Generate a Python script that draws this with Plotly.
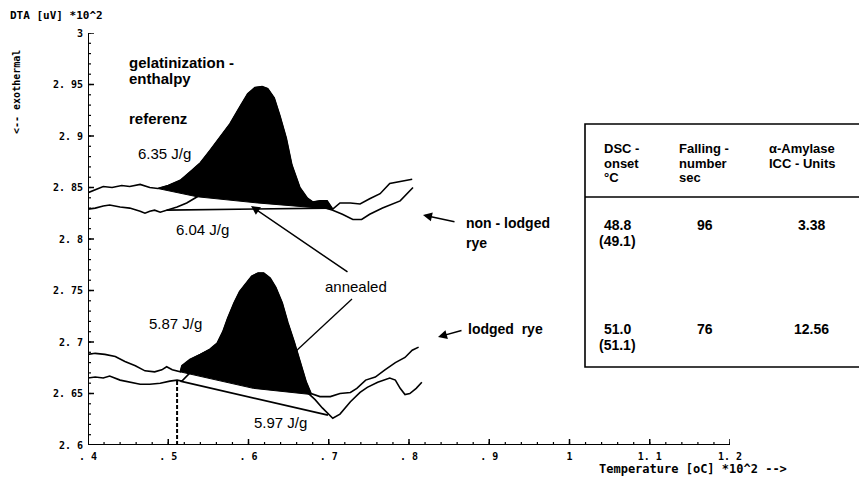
import numpy as np
import plotly.graph_objects as go

# ---------------- data (temperature *10^2 , DTA uV *10^2) ----------------
ref_non_T = [.400, .409, .419, .430, .442, .452, .465, .477, .487, .500, .515, .527, .540, .552, .564, .577, .589, .599, .608, .617,
             .624, .632, .639, .647, .654, .664, .673, .680, .689, .698, .705, .714, .727, .739, .751, .764, .776, .789, .804]
ref_non_V = [2.845, 2.848, 2.851, 2.850, 2.852, 2.851, 2.853, 2.850, 2.849, 2.852, 2.857, 2.865, 2.874, 2.886, 2.898, 2.912, 2.928, 2.941, 2.947, 2.948,
             2.946, 2.937, 2.920, 2.898, 2.872, 2.850, 2.840, 2.836, 2.837, 2.837, 2.829, 2.835, 2.835, 2.834, 2.839, 2.844, 2.854, 2.856, 2.858]
ref_non_peak = (.487, .705)
ref_non_base_T = [.705, .611, .536, .487]
ref_non_base_V = [2.829, 2.835, 2.841, 2.849]

ann_non_T = [.400, .409, .419, .427, .440, .452, .465, .471, .477, .483, .490, .498, .511, .523, .536, .552, .577, .602, .617, .632,
             .647, .664, .680, .692, .705, .717, .730, .741, .751, .767, .789, .805]
ann_non_V = [2.829, 2.830, 2.832, 2.833, 2.831, 2.830, 2.827, 2.825, 2.827, 2.828, 2.826, 2.828, 2.831, 2.835, 2.841, 2.857, 2.886, 2.917, 2.927, 2.917,
             2.875, 2.842, 2.831, 2.831, 2.828, 2.824, 2.819, 2.819, 2.824, 2.830, 2.837, 2.850]
ann_non_base_T = [.498, .700]
ann_non_base_V = [2.828, 2.830]

ref_lod_T = [.400, .409, .421, .434, .446, .459, .471, .483, .492, .498, .505, .515, .517, .527, .540, .552, .561, .568, .574, .582,
             .589, .597, .604, .612, .619, .627, .634, .642, .649, .657, .664, .672, .678, .689, .702, .714, .727, .735, .746, .758,
             .770, .783, .795, .804, .812]
ref_lod_V = [2.688, 2.689, 2.688, 2.686, 2.681, 2.677, 2.672, 2.671, 2.673, 2.676, 2.673, 2.671, 2.677, 2.683, 2.688, 2.693, 2.699, 2.710, 2.723, 2.738,
             2.749, 2.757, 2.764, 2.767, 2.767, 2.762, 2.753, 2.738, 2.719, 2.700, 2.681, 2.661, 2.650, 2.647, 2.647, 2.650, 2.651, 2.655, 2.663, 2.666,
             2.673, 2.680, 2.685, 2.692, 2.695]
ref_lod_peak = (.515, .678)
ref_lod_base_T = [.678, .606, .515]
ref_lod_base_V = [2.649, 2.655, 2.671]

ann_lod_T = [.400, .409, .419, .427, .440, .452, .465, .477, .490, .502, .511, .517, .527, .552, .589, .612, .633, .655, .672, .683,
             .692, .705, .714, .727, .739, .748, .761, .776, .783, .789, .795, .801, .809, .816]
ann_lod_V = [2.665, 2.666, 2.665, 2.667, 2.663, 2.661, 2.659, 2.659, 2.660, 2.662, 2.663, 2.662, 2.670, 2.687, 2.731, 2.750, 2.736, 2.690, 2.652, 2.644,
             2.636, 2.626, 2.630, 2.642, 2.651, 2.656, 2.661, 2.665, 2.663, 2.655, 2.649, 2.650, 2.655, 2.661]
ann_lod_base_T = [.515, .699]
ann_lod_base_V = [2.662, 2.629]

onset_T = .511
onset_V = 2.663

x_range = [.4, 1.2]
y_range = [2.6, 3.0]
x_ticks = [.4, .5, .6, .7, .8, .9, 1.0, 1.1, 1.2]
x_ticktext = [". 4", ". 5", ". 6", ". 7", ". 8", ". 9", "1", "1. 1", "1. 2"]
y_ticks = [2.6, 2.65, 2.7, 2.75, 2.8, 2.85, 2.9, 2.95, 3.0]
y_ticktext = ["2. 6", "2. 65", "2. 7", "2. 75", "2. 8", "2. 85", "2. 9", "2. 95", "3"]
x_minor_step = 0.02
y_minor_step = 0.01

table_header = [["DSC -", "onset", "°C"], ["Falling -", "number", "sec"], ["α-Amylase", "ICC - Units"]]
table_rows = [[["48.8", "(49.1)"], ["96"], ["3.38"]],
              [["51.0", "(51.1)"], ["76"], ["12.56"]]]

enthalpy_labels = ["6.35 J/g", "6.04 J/g", "5.87 J/g", "5.97 J/g"]

# ---------------- figure ----------------
OFF = 8                      # page body margin compensation
PW, PH = 867, 486            # page size
L, R, T, B = 88, 137, 33, 41 # plot area in page pixels
LINE = dict(color="black", width=1.6)
fig = go.Figure()


def seg(ts, vs, lo, hi):
    pts = [(t, v) for t, v in zip(ts, vs) if lo <= t <= hi]
    return [p[0] for p in pts], [p[1] for p in pts]


for ts, vs, pk, bt, bv in [(ref_non_T, ref_non_V, ref_non_peak, ref_non_base_T, ref_non_base_V),
                           (ref_lod_T, ref_lod_V, ref_lod_peak, ref_lod_base_T, ref_lod_base_V)]:
    st, sv = seg(ts, vs, *pk)
    fig.add_trace(go.Scatter(x=st + bt, y=sv + bv, mode="lines", fill="toself",
                             fillcolor="black", line=dict(color="black", width=1), hoverinfo="skip"))

for ts, vs in [(ann_non_T, ann_non_V), (ann_lod_T, ann_lod_V), (ref_non_T, ref_non_V), (ref_lod_T, ref_lod_V)]:
    fig.add_trace(go.Scatter(x=ts, y=vs, mode="lines", line=LINE, hoverinfo="skip"))

for bt, bv in [(ann_non_base_T, ann_non_base_V), (ann_lod_base_T, ann_lod_base_V)]:
    fig.add_trace(go.Scatter(x=bt, y=bv, mode="lines", line=LINE, hoverinfo="skip"))

fig.add_trace(go.Scatter(x=[onset_T, onset_T], y=[y_range[0], onset_V], mode="lines",
                         line=dict(color="black", width=2, dash="4px,2px"), hoverinfo="skip"))

PLOT_W = PW - L - R
PLOT_H = PH - T - B


def px2d(px, py):
    return (x_range[0] + (px - L) / PLOT_W * (x_range[1] - x_range[0]),
            y_range[0] + (PH - B - py) / PLOT_H * (y_range[1] - y_range[0]))


def px2p(px, py):
    return (px - L) / PLOT_W, (PH - B - py) / PLOT_H


TXT = "Liberation Sans"
ann = []


def label(text, px, py, size=14, bold=True, anchor="left"):
    x, y = px2d(px, py)
    ann.append(dict(x=x, y=y, xref="x", yref="y", text=("<b>%s</b>" % text) if bold else text,
                    showarrow=False, xanchor=anchor, yanchor="middle", align="left",
                    font=dict(family=TXT, size=size, color="black")))


label("gelatinization -", 127, 62, 15)
label("enthalpy", 127, 78, 15)
label("referenz", 127, 118, 15)
label(enthalpy_labels[0], 136, 153, 15, bold=False)
label(enthalpy_labels[1], 174, 229, 15, bold=False)
label(enthalpy_labels[2], 147, 323, 15, bold=False)
label(enthalpy_labels[3], 252, 422, 15, bold=False)
label("annealed", 323, 286, 15, bold=False)
label("non - lodged", 464, 223, 14)
label("rye", 464, 243, 14)
label("lodged  rye", 466, 329, 14)


def arrow(hx, hy, tx, ty, head=2):
    x, y = px2d(hx, hy)
    ax_, ay_ = px2d(tx, ty)
    ann.append(dict(x=x, y=y, ax=ax_, ay=ay_, xref="x", yref="y", axref="x", ayref="y",
                    text="", showarrow=True, arrowhead=head, arrowsize=1.2, arrowwidth=1.5,
                    arrowcolor="black"))


arrow(423, 215, 456, 222)
arrow(438, 337, 463, 330)
arrow(251, 206, 349, 273)

shapes = []
x0, y0 = px2d(352, 299)
x1, y1 = px2d(295, 352)
shapes.append(dict(type="line", xref="x", yref="y", x0=x0, y0=y0, x1=x1, y1=y1,
                   line=dict(color="black", width=1.3)))

# axis lines and tick marks (drawn as shapes in axis coordinates)
AX = dict(color="black", width=2)
shapes.append(dict(type="line", xref="x", yref="y", x0=x_range[0], y0=y_range[0], x1=x_range[1], y1=y_range[0], line=AX))
shapes.append(dict(type="line", xref="x", yref="y", x0=x_range[0], y0=y_range[0], x1=x_range[0], y1=y_range[1], line=AX))


def xtick(v, ln, w):
    shapes.append(dict(type="line", xref="x", yref="y", ysizemode="pixel", yanchor=y_range[0],
                       x0=v, x1=v, y0=0, y1=ln, line=dict(color="black", width=w)))


def ytick(v, ln, w):
    shapes.append(dict(type="line", xref="x", yref="y", xsizemode="pixel", xanchor=x_range[0],
                       x0=0, x1=ln, y0=v, y1=v, line=dict(color="black", width=w)))


for v in np.arange(x_range[0], x_range[1] + 1e-9, x_minor_step):
    xtick(float(v), 3, 1.2)
for v in np.arange(y_range[0], y_range[1] + 1e-9, y_minor_step):
    ytick(float(v), 3, 1.2)
for v in x_ticks:
    xtick(v, 6, 1.5)
for v in y_ticks:
    ytick(v, 6, 1.5)

# table
tl = px2p(585, 124)
br = px2p(880, 367)
sep = px2p(585, 197)
shapes.append(dict(type="rect", xref="paper", yref="paper", x0=tl[0], y0=br[1], x1=br[0], y1=tl[1],
                   line=dict(color="black", width=1.6)))
shapes.append(dict(type="line", xref="paper", yref="paper", x0=tl[0], y0=sep[1], x1=br[0], y1=sep[1],
                   line=dict(color="black", width=1.6)))


def ptext(text, px, py, size=13, anchor="left"):
    x, y = px2p(px, py)
    ann.append(dict(x=x, y=y, xref="paper", yref="paper", text="<b>%s</b>" % text, showarrow=False,
                    xanchor=anchor, yanchor="middle", font=dict(family=TXT, size=size, color="black")))


col_x = [602, 677, 767]
for c, lines in enumerate(table_header):
    for i, t in enumerate(lines):
        ptext(t, col_x[c], 148 + 15 * i)

row_y = [225, 329]
row_x = [(602, "left"), (705, "center"), (812, "center")]
for r, row in enumerate(table_rows):
    for c, lines in enumerate(row):
        for i, t in enumerate(lines):
            px = row_x[c][0] - (5 if (c == 0 and i == 1) else 0)
            ptext(t, px, row_y[r] + 16 * i, 14, row_x[c][1])

# axis titles
MONO = "DejaVu Sans Mono"
ann.append(dict(x=px2p(8, 15)[0], y=px2p(8, 15)[1], xref="paper", yref="paper", text="<b>DTA [uV] *10^2</b>",
                showarrow=False, xanchor="left", yanchor="middle", font=dict(family=MONO, size=11, color="black")))
ann.append(dict(x=px2p(16, 92)[0], y=px2p(16, 92)[1], xref="paper", yref="paper", text="<b><-- exothermal</b>",
                showarrow=False, textangle=-90, xanchor="center", yanchor="middle",
                font=dict(family=MONO, size=10, color="black")))
ann.append(dict(x=px2p(597, 469)[0], y=px2p(597, 469)[1], xref="paper", yref="paper",
                text="<b>Temperature [oC] *10^2 --></b>",
                showarrow=False, xanchor="left", yanchor="middle", font=dict(family=MONO, size=12, color="black")))

fig.update_layout(
    width=PW - OFF, height=PH - OFF,
    margin=dict(l=L - OFF, r=R, t=T - OFF, b=B, autoexpand=False),
    paper_bgcolor="white", plot_bgcolor="white", showlegend=False,
    annotations=ann, shapes=shapes,
)
for axis, rng, tv, tt in [("x", x_range, x_ticks, x_ticktext), ("y", y_range, y_ticks, y_ticktext)]:
    upd = dict(range=rng, tickmode="array", tickvals=tv, ticktext=tt, automargin=False,
               showgrid=False, zeroline=False, showline=False, ticks="", ticklabelstandoff=4,
               tickfont=dict(family=MONO, size=10, color="black", weight="bold"))
    if axis == "x":
        fig.update_xaxes(**upd)
    else:
        fig.update_yaxes(**upd)

fig.write_html("out.html")
